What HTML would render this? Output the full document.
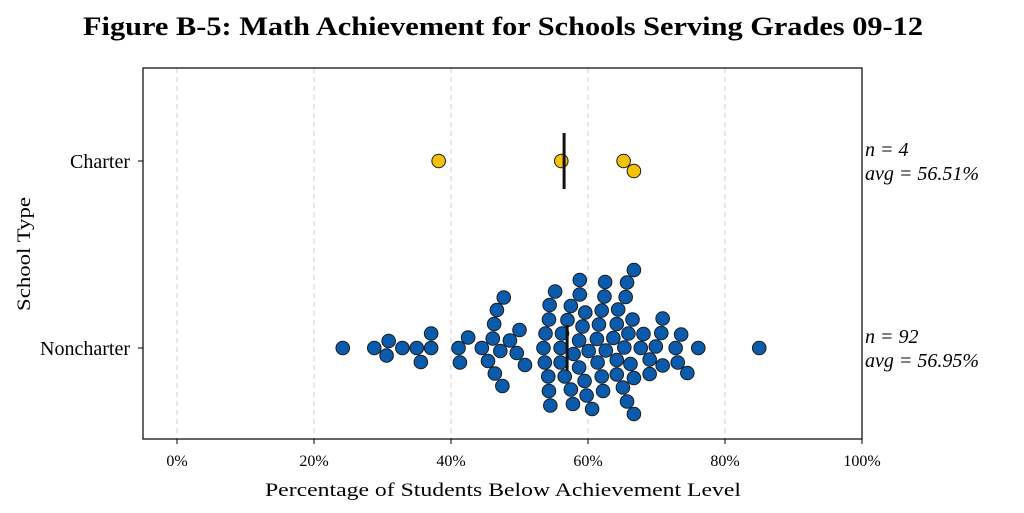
<!DOCTYPE html>
<html><head><meta charset="utf-8">
<style>
html,body{margin:0;padding:0;background:#fff;}
svg{display:block;font-family:"Liberation Serif",serif;}
</style></head>
<body>
<svg id="chart" width="1024" height="513" viewBox="0 0 1024 513">
<text x="503" y="35" text-anchor="middle" font-size="26" font-weight="bold" textLength="840" lengthAdjust="spacingAndGlyphs">Figure B-5: Math Achievement for Schools Serving Grades 09-12</text>
<g id="grid"></g>
<rect x="143" y="68" width="719" height="371" fill="none" stroke="#000" stroke-width="1.2"/>
<g id="xticks"></g>
<g id="yticks"></g>
<text x="503" y="496" text-anchor="middle" font-size="19" textLength="476" lengthAdjust="spacingAndGlyphs">Percentage of Students Below Achievement Level</text>
<text transform="translate(30,254) rotate(-90)" text-anchor="middle" font-size="19" textLength="114" lengthAdjust="spacingAndGlyphs">School Type</text>
<g id="marks"></g>
<g id="annot" font-style="italic" font-size="20"></g>
</svg>
<script>
const categories = ["Charter", "Noncharter"];
const charterValues = [38.2, 56.1, 65.2, 66.7];
const noncharterValues = [24.2,28.8,30.9,30.6,32.9,35.0,35.6,37.1,37.1,41.1,41.3,42.5,44.5,45.4,46.1,46.3,46.7,46.4,47.7,47.2,47.5,48.6,50.0,49.6,50.8,
55.2,54.4,54.3,53.8,53.5,53.7,54.2,54.3,54.5,60.1,58.8,57.5,57.0,56.2,56.0,56.0,56.6,57.5,58.8,59.8,57.9,57.8,58.7,59.5,59.6,58.7,59.2,
60.6,61.3,61.4,62.0,62.4,62.6,62.5,62.0,61.6,62.2,63.7,64.2,64.2,64.2,64.4,65.3,65.7,66.7,65.9,65.7,65.1,66.7,66.2,65.5,66.5,66.7,
68.1,67.7,69.0,69.0,69.9,70.7,70.9,70.9,72.8,73.1,73.6,74.5,76.1,85.0];
const counts = [4, 92];
const averages = [56.51, 56.95];
const xTicks = [0,20,40,60,80,100];
const xTickLabels = ["0%","20%","40%","60%","80%","100%"];

const NS="http://www.w3.org/2000/svg";
function xS(v){return 177 + v*6.85;}
function yS(i){return [161,348][i];}
function mk(tag,attrs,parent){const e=document.createElementNS(NS,tag);for(const k in attrs)e.setAttribute(k,attrs[k]);parent.appendChild(e);return e;}

const grid=document.getElementById('grid'), xt=document.getElementById('xticks'), yt=document.getElementById('yticks');
xTicks.forEach((t,i)=>{
  const g=mk('line',{x1:xS(t),x2:xS(t),y1:68,y2:439,stroke:'#d0d0d0','stroke-dasharray':'5,4','stroke-width':1},grid);
  
  
  const tk=mk('line',{x1:xS(t),x2:xS(t),y1:439,y2:444,stroke:'#000'},xt);
  
  
  const tl=mk('text',{x:xS(t),y:466,'text-anchor':'middle','font-size':16},xt);
  tl.textContent=xTickLabels[i];
  
  
});
categories.forEach((c,i)=>{
  const tk=mk('line',{x1:138,x2:143,y1:yS(i),y2:yS(i),stroke:'#000'},yt);
  
  
  const tl=mk('text',{x:130,y:yS(i)+7,'text-anchor':'end','font-size':20},yt);
  tl.textContent=c;
  
  
});

function swarm(vals){
  const d=14.2, sorted=vals.map(v=>xS(v)).sort((a,b)=>a-b), placed=[];
  sorted.forEach(x=>{
    let best=null;
    for(let k=0;k<400;k++){
      const off=(k%2?1:-1)*Math.ceil(k/2)*0.5;
      const ok=placed.every(p=>(p.x-x)**2+(p.y-off)**2>=d*d);
      if(ok){best=off;break;}
    }
    placed.push({x:x,y:best});
  });
  return placed;
}
const marks=document.getElementById('marks');
const seriesList=[charterValues,noncharterValues];
const colors=['#f5c200','#0a5bab'];
seriesList.forEach((vals,i)=>{
  const g=mk('g',{},marks);
  
  
  swarm(vals).forEach(p=>{
    const c=mk('circle',{cx:p.x,cy:yS(i)+p.y,r:6.8,fill:colors[i],stroke:'#1a1a1a','stroke-width':1},g);
    
    
  });
  const half=[28,23][i];
  const m=mk('line',{x1:xS(averages[i]),x2:xS(averages[i]),y1:yS(i)-half,y2:yS(i)+half,stroke:'#111','stroke-width':3},g);
  
  
});
const an=document.getElementById('annot');
categories.forEach((c,i)=>{
  const t1=mk('text',{x:865,y:yS(i)-5},an);
  t1.textContent='n = '+counts[i];
  
  
  const t2=mk('text',{x:865,y:yS(i)+19},an);
  t2.textContent='avg = '+averages[i].toFixed(2)+'%';
  
  
});
</script>
</body></html>
